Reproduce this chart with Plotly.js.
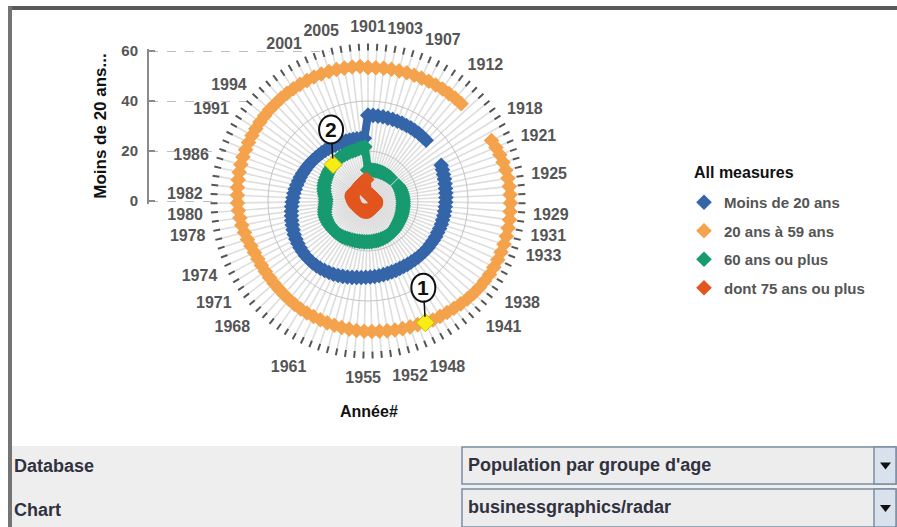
<!DOCTYPE html>
<html><head><meta charset="utf-8">
<script src="https://cdn.plot.ly/plotly-3.0.1.min.js"></script>
<style>html,body{margin:0;padding:0;background:#fff;overflow:hidden}#chart{width:897px;height:527px}</style>
</head><body><div id="chart"></div>
<script>
// ---------- data ----------
const firstYear = 1901, lastYear = 2007;
const years = [];
for (let y = firstYear; y <= lastYear; y++) years.push(String(y));

const labelYears = ['1901','1903','1907','1912','1918','1921','1925','1929','1931','1933','1938','1941',
  '1948','1952','1955','1961','1968','1971','1974','1978','1980','1982','1986','1991','1994','2001','2005'];

const seriesNames = ['Moins de 20 ans', '20 ans à 59 ans', '60 ans ou plus', 'dont 75 ans ou plus'];

// Moins de 20 ans (1901..2007)
const moins20 = [
  34.3,34.3,34.2,34.2,34.1,34.1,34.0,34.0,33.9,33.9,
  33.8,33.8,33.7,33.6,null,null,null,null,null,32.6,
  32.3,32.0,31.8,31.6,31.4,31.3,31.2,31.1,31.0,30.9,
  30.9,30.8,30.8,30.7,30.6,30.6,30.5,30.4,30.4,30.3,
  30.2,30.1,30.0,29.9,29.9,29.8,29.8,29.9,29.9,30.0,
  30.1,30.2,30.3,30.4,30.5,30.7,30.9,31.2,31.5,31.8,
  32.1,32.4,32.6,32.8,33.0,33.1,33.2,33.2,33.2,33.1,
  33.0,32.8,32.6,32.4,32.1,31.8,31.5,31.2,30.9,30.6,
  30.3,30.0,29.8,29.5,29.2,28.9,28.7,28.4,28.1,27.9,
  27.6,27.4,27.1,26.9,26.7,26.5,26.3,26.1,25.9,25.8,
  25.7,25.6,25.5,25.4,25.3,25.2,25.1
];
// 20 ans à 59 ans
const ans20a59 = [
  53.4,53.4,53.5,53.5,53.5,53.6,53.6,53.6,53.7,53.7,
  53.8,53.8,53.9,53.9,null,null,null,null,null,55.0,
  55.5,55.9,56.2,56.5,56.7,56.8,56.9,57.0,57.0,57.1,
  57.1,57.1,57.1,57.0,57.0,56.9,56.8,56.6,56.4,56.1,
  55.8,55.4,55.0,54.7,54.4,54.2,53.8,53.3,53.1,52.9,
  52.7,52.5,52.3,52.2,52.1,52.0,51.8,51.7,51.5,51.4,
  51.2,51.1,51.0,50.9,50.7,50.5,50.3,50.1,50.0,49.9,
  49.8,49.8,49.8,49.9,50.2,50.6,51.0,51.4,51.7,52.0,
  52.2,52.3,52.5,52.6,52.8,52.9,53.0,53.1,53.2,53.3,
  53.4,53.5,53.6,53.7,53.7,53.8,53.9,53.9,54.0,54.0,
  54.1,54.1,54.1,54.1,54.0,54.0,53.9
];
// 60 ans ou plus
const plus60 = [
  12.4,12.4,12.5,12.5,12.5,12.6,12.6,12.6,12.7,12.7,
  12.7,12.8,12.8,12.9,null,null,null,null,null,13.6,
  13.7,13.8,13.8,13.9,13.9,14.0,14.0,14.1,14.1,14.2,
  14.2,14.3,14.4,14.5,14.6,14.7,14.8,14.9,15.0,15.2,
  15.4,15.6,15.7,15.8,15.9,16.0,16.0,16.1,16.1,16.2,
  16.2,16.2,16.3,16.3,16.3,16.4,16.4,16.5,16.6,16.7,
  16.8,16.9,17.1,17.3,17.5,17.7,17.8,17.9,18.0,18.1,
  18.1,18.2,18.2,18.2,18.2,18.1,17.9,17.6,17.3,17.0,
  16.9,16.9,17.2,17.6,18.0,18.3,18.6,18.8,19.0,19.2,
  19.4,19.6,19.8,20.0,20.2,20.4,20.5,20.6,20.7,20.8,
  20.8,20.9,20.9,21.0,21.2,21.4,21.7
];
// dont 75 ans ou plus
const plus75 = [
  2.5,2.5,2.5,2.5,2.5,2.5,2.6,2.6,2.6,2.6,
  2.6,2.6,2.6,2.6,null,null,null,null,null,2.8,
  2.8,2.8,2.8,2.9,2.9,2.9,2.9,3.0,3.0,3.0,
  3.0,3.1,3.1,3.2,3.2,3.3,3.3,3.3,3.4,3.4,
  3.4,3.4,3.4,3.4,3.4,3.5,3.5,3.6,3.7,3.8,
  3.8,3.9,3.9,4.0,4.0,4.1,4.1,4.2,4.2,4.3,
  4.3,4.4,4.4,4.5,4.5,4.6,4.6,4.7,4.7,4.7,
  4.8,4.9,5.0,5.1,5.2,5.3,5.4,5.5,5.6,5.7,
  5.8,5.9,6.1,6.3,6.5,6.6,6.7,6.8,6.9,6.8,
  6.8,6.7,6.5,6.3,6.1,6.2,6.5,6.8,7.0,7.2,
  7.4,7.6,7.8,8.0,8.2,8.4,8.6
];

const radialTicks = [0, 20, 40, 60];
const highlightYears = ['1947', '1995'];
const highlightSeries = [1, 2];
const highlightLabels = ['1', '2'];

// ---------- styling / geometry ----------
const W = 897, H = 527;
const px = x => x / W;
const py = y => 1 - y / H;
const FONT = 'Liberation Sans, Arial, Helvetica, sans-serif';
const colors = ['#3565a9', '#f4a24b', '#179a6f', '#e2561f'];
const seriesValues = [moins20, ans20a59, plus60, plus75];
const radialMax = 60;

const CX = 368, CY = 201, RAD = 150, LABEL_RAD = 165;
const polarDom = { x: [px(CX - RAD), px(CX + RAD)], y: [py(CY + RAD), py(CY - RAD)] };
const labelDom = { x: [px(CX - LABEL_RAD), px(CX + LABEL_RAD)], y: [py(CY + LABEL_RAD), py(CY - LABEL_RAD)] };

const closeLoop = arr => arr.concat([arr[0]]);
const thetaClosed = closeLoop(years);

const traces = [];
seriesValues.forEach((vals, i) => {
  traces.push({
    type: 'scatterpolar', r: closeLoop(vals), theta: thetaClosed, mode: 'lines',
    line: { color: colors[i], width: 8 }, connectgaps: false,
    showlegend: false, hoverinfo: 'skip'
  });
});
seriesValues.forEach((vals, i) => {
  traces.push({
    type: 'scatterpolar', r: closeLoop(vals), theta: thetaClosed, mode: 'markers',
    name: seriesNames[i], legendgroup: 'g' + i,
    marker: { symbol: 'diamond', size: 12, color: colors[i] },
    hoverinfo: 'skip'
  });
});
const hlR = highlightYears.map((y, k) => seriesValues[highlightSeries[k]][years.indexOf(y)]);
traces.push({
  type: 'scatterpolar', r: hlR, theta: highlightYears, mode: 'markers',
  marker: { symbol: 'diamond', size: 14, color: '#f7ec14', line: { color: '#c9b800', width: 1 } },
  showlegend: false, hoverinfo: 'skip'
});
// label ring (angular tick labels only, slightly outside the tick ring)
traces.push({ type: 'scatterpolar', subplot: 'polar2', r: moins20, theta: years, mode: 'none', showlegend: false, hoverinfo: 'skip' });
// carrier for the left value axis
traces.push({ type: 'scatter', x: [null], y: [null], xaxis: 'x', yaxis: 'y', showlegend: false, hoverinfo: 'skip' });

const annotations = [];
const shapes = [];

highlightYears.forEach((y, k) => {
  const idx = years.indexOf(y);
  const th = idx * 2 * Math.PI / years.length;
  const rr = hlR[k] / radialMax * RAD;
  const X = CX + rr * Math.sin(th), Y = CY - rr * Math.cos(th);
  annotations.push({
    xref: 'paper', yref: 'paper', x: px(X), y: py(Y), text: highlightLabels[k],
    showarrow: true, arrowhead: 0, arrowwidth: 1.5, arrowcolor: '#111', ax: -2, ay: -35, standoff: 6,
    font: { family: FONT, size: 21, color: '#111', weight: 'bold' }
  });
  shapes.push({
    type: 'circle', xref: 'paper', yref: 'paper', xsizemode: 'pixel', ysizemode: 'pixel',
    xanchor: px(X), yanchor: py(Y), x0: -14, x1: 10, y0: 21, y1: 49,
    line: { color: '#111', width: 2 }, fillcolor: '#fff', layer: 'above'
  });
});

annotations.push({
  xref: 'paper', yref: 'paper', x: px(369), y: py(411), xanchor: 'center', yanchor: 'middle', text: 'Année#', showarrow: false,
  font: { family: FONT, size: 16, color: '#111', weight: 'bold' }
});
annotations.push({
  xref: 'paper', yref: 'paper', x: px(692), y: py(172), xanchor: 'left', yanchor: 'middle', text: 'All measures', showarrow: false,
  font: { family: FONT, size: 16, color: '#111', weight: 'bold' }
});

// UI panel (database / chart selectors)
const uiFont = { family: FONT, size: 18, color: '#30323f', weight: 'bold' };
shapes.push({ type: 'rect', xref: 'paper', yref: 'paper', x0: px(12), x1: 1, y0: 0, y1: py(446), fillcolor: '#eeeeee', line: { width: 0 }, layer: 'below' });
shapes.push({ type: 'rect', xref: 'paper', yref: 'paper', x0: px(8), x1: 1, y0: py(10), y1: py(6), fillcolor: '#5a5a5a', line: { width: 0 } });
shapes.push({ type: 'rect', xref: 'paper', yref: 'paper', x0: px(8), x1: px(12), y0: 0, y1: py(6), fillcolor: '#747474', line: { width: 0 } });
const combos = [{ top: 447, bottom: 484, text: 'Population par groupe d\'age' }, { top: 489, bottom: 527, text: 'businessgraphics/radar' }];
const uiLabels = [{ y: 466, text: 'Database' }, { y: 510, text: 'Chart' }];
uiLabels.forEach(l => annotations.push({ xref: 'paper', yref: 'paper', x: px(12), y: py(l.y), xanchor: 'left', yanchor: 'middle', text: l.text, showarrow: false, font: uiFont }));
combos.forEach(c => {
  shapes.push({ type: 'rect', xref: 'paper', yref: 'paper', x0: px(462), x1: px(896), y0: py(c.bottom), y1: py(c.top), fillcolor: '#ededed', line: { color: '#7b8ea3', width: 1.5 } });
  shapes.push({ type: 'rect', xref: 'paper', yref: 'paper', x0: px(874), x1: px(896), y0: py(c.bottom), y1: py(c.top), fillcolor: '#d9e2ec', line: { color: '#7b8ea3', width: 1.5 } });
  const my = (c.top + c.bottom) / 2;
  shapes.push({ type: 'path', xref: 'paper', yref: 'paper',
    path: `M ${px(880)} ${py(my - 3)} L ${px(891)} ${py(my - 3)} L ${px(885.5)} ${py(my + 4)} Z`,
    fillcolor: '#111', line: { width: 0 } });
  annotations.push({ xref: 'paper', yref: 'paper', x: px(466), y: py(my - 1), xanchor: 'left', yanchor: 'middle', text: c.text, showarrow: false, font: uiFont });
});

const angularBase = {
  type: 'category', categoryorder: 'array', categoryarray: years,
  direction: 'clockwise', rotation: 90, tickmode: 'array', tickvals: years
};

const layout = {
  width: W, height: H, margin: { l: 0, r: 0, t: 0, b: 0 },
  paper_bgcolor: '#ffffff', plot_bgcolor: 'rgba(0,0,0,0)',
  font: { family: FONT, size: 15, color: '#555', weight: 'bold' },
  showlegend: true,
  legend: {
    x: px(684), y: py(186), xanchor: 'left', yanchor: 'top', bgcolor: 'rgba(0,0,0,0)',
    font: { family: FONT, size: 15, color: '#555', weight: 'bold' }, tracegroupgap: 6
  },
  polar: {
    domain: polarDom, bgcolor: '#ffffff',
    angularaxis: Object.assign({}, angularBase, {
      ticktext: years.map(() => ''),
      ticks: 'outside', ticklen: 7, tickwidth: 2, tickcolor: '#555',
      showgrid: true, gridcolor: '#dedede', gridwidth: 1.6, showline: false
    }),
    radialaxis: {
      range: [0, radialMax], tickmode: 'array', tickvals: [20, 40],
      showticklabels: false, ticks: '', showline: false, gridcolor: '#c4c4c4', gridwidth: 1
    }
  },
  polar2: {
    domain: labelDom, bgcolor: 'rgba(0,0,0,0)',
    angularaxis: Object.assign({}, angularBase, {
      ticktext: years.map(y => labelYears.includes(y) ? y : ''),
      ticks: '', showgrid: false, showline: false,
      tickfont: { family: FONT, size: 16, color: '#555', weight: 'bold' }
    }),
    radialaxis: { visible: false, showgrid: false }
  },
  xaxis: { domain: [px(149), px(330)], range: [0, 1], visible: false, fixedrange: true },
  yaxis: {
    domain: [py(CY + 2.5), py(CY - RAD - 2.5)], range: [-1, radialMax + 1], tickmode: 'array', tickvals: radialTicks,
    showline: true, linecolor: '#8a8a8a', linewidth: 2, ticks: 'inside', ticklen: 6, tickwidth: 2, tickcolor: '#8a8a8a',
    showgrid: true, gridcolor: '#bdbdbd', griddash: 'dash', gridwidth: 1, zeroline: false,
    tickfont: { family: FONT, size: 15, color: '#555', weight: 'bold' }, ticklabelstandoff: 6,
    title: { text: 'Moins de 20 ans...', font: { family: FONT, size: 17, color: '#111', weight: 'bold' }, standoff: 10 },
    fixedrange: true
  },
  shapes: shapes,
  annotations: annotations
};

Plotly.newPlot('chart', traces, layout, { displayModeBar: false, staticPlot: true });
</script></body></html>
